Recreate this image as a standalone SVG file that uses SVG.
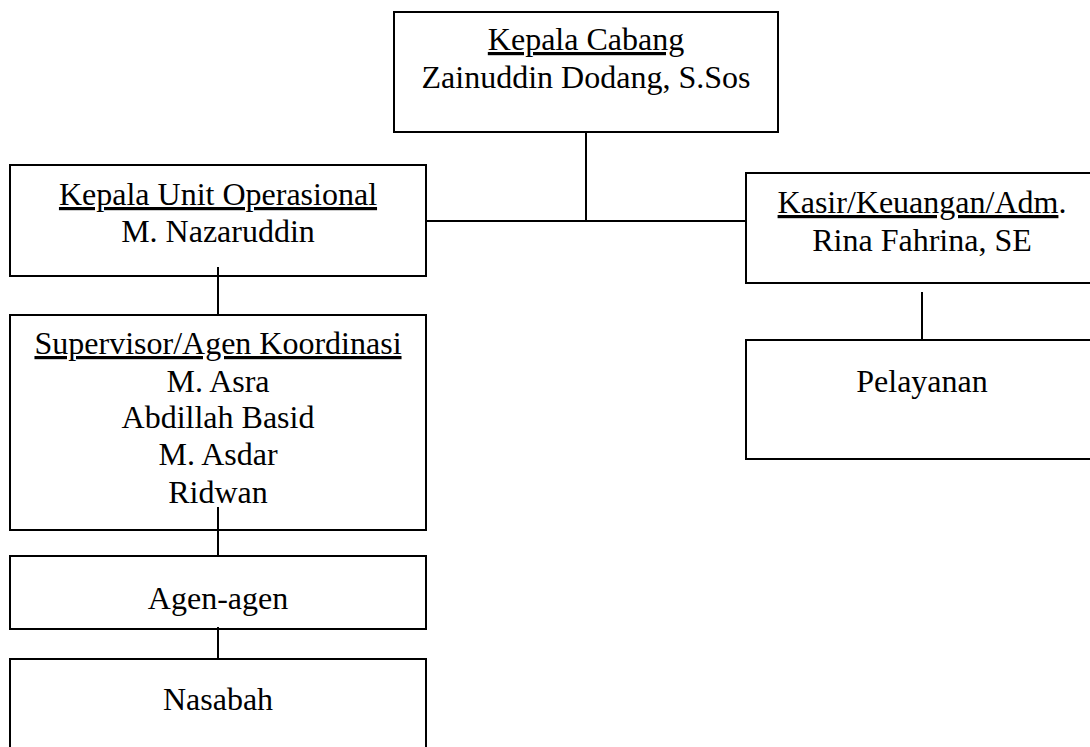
<svg xmlns="http://www.w3.org/2000/svg" width="1090" height="747" viewBox="0 0 1090 747">
<style>
.box{fill:none;stroke:#000;stroke-width:2}
.t{font-family:"Liberation Serif","Times New Roman",serif;font-size:32px;fill:#000;text-anchor:middle}
.u{text-decoration:underline}
.c{stroke:#000;stroke-width:2;fill:none}
</style>
<rect width="1090" height="747" fill="#fff"/>
<g id="kepala-cabang">
<rect class="box" x="394" y="12" width="384" height="120"/>
<text class="t" x="586" y="50"><tspan class="u">Kepala Cabang</tspan></text>
<text class="t" x="586" y="88">Zainuddin Dodang, S.Sos</text>
</g>
<g id="kepala-unit">
<rect class="box" x="10" y="165" width="416" height="111"/>
<text class="t" x="218" y="205"><tspan class="u">Kepala Unit Operasional</tspan></text>
<text class="t" x="218" y="242">M. Nazaruddin</text>
</g>
<g id="kasir">
<rect class="box" x="746" y="173" width="352" height="110"/>
<text class="t" x="922" y="213"><tspan class="u">Kasir/Keuangan/Adm</tspan>.</text>
<text class="t" x="922" y="251">Rina Fahrina, SE</text>
</g>
<g id="pelayanan">
<rect class="box" x="746" y="340" width="352" height="119"/>
<text class="t" x="922" y="392">Pelayanan</text>
</g>
<g id="supervisor">
<rect class="box" x="10" y="315" width="416" height="215"/>
<text class="t" x="218" y="354"><tspan class="u">Supervisor/Agen Koordinasi</tspan></text>
<text class="t" x="218" y="392">M. Asra</text>
<text class="t" x="218" y="428">Abdillah Basid</text>
<text class="t" x="218" y="465">M. Asdar</text>
<text class="t" x="218" y="503">Ridwan</text>
</g>
<g id="agen">
<rect class="box" x="10" y="556" width="416" height="73"/>
<text class="t" x="218" y="609">Agen-agen</text>
</g>
<g id="nasabah">
<rect class="box" x="10" y="659" width="416" height="110"/>
<text class="t" x="218" y="710">Nasabah</text>
</g>
<g id="connectors">
<line class="c" x1="586" y1="132" x2="586" y2="221"/>
<line class="c" x1="426" y1="221" x2="747" y2="221"/>
<line class="c" x1="218" y1="267" x2="218" y2="315"/>
<line class="c" x1="922" y1="292" x2="922" y2="340"/>
<line class="c" x1="218" y1="507" x2="218" y2="556"/>
<line class="c" x1="218" y1="627" x2="218" y2="659"/>
</g>
</svg>
